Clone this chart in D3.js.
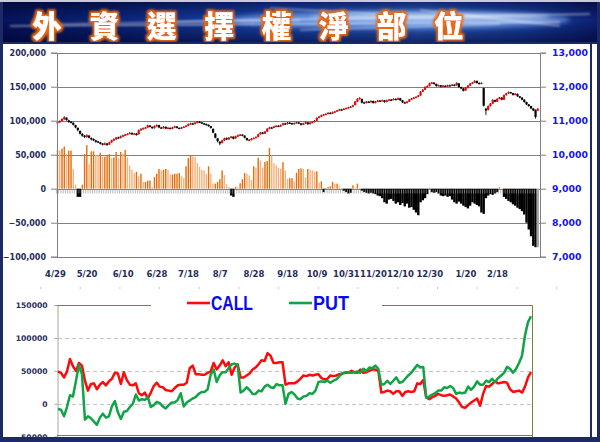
<!DOCTYPE html>
<html><head><meta charset="utf-8">
<script src="https://cdn.jsdelivr.net/npm/d3@7"></script>
<style>body{margin:0;background:#fff}svg{display:block}</style>
</head><body>
<svg id="c" width="600" height="442"></svg>
<script>
// ---------------- DATA ----------------
const titleText = "外資選擇權淨部位";
const dateLabels = ["4/29","5/20","6/10","6/28","7/18","8/7","8/28","9/18","10/9","10/31","11/20","12/10","12/30","1/20","2/18"];
const dateLabelIdx = [0,14,30,45,59,73,88,103,116,129,141,153,166,182,196];
const leftTicks = [-100000,-50000,0,50000,100000,150000,200000];
const rightTicks = [7000,8000,9000,10000,11000,12000,13000];
const lowerTicks = [-50000,0,50000,100000,150000];
const seriesNames = ["CALL","PUT"];

const idxOpen = [
10920,10950,10990,11040,11090,11010,10970,10940,10870,10790,
10700,10610,10560,10520,10560,10490,10460,10420,10390,10360,
10330,10300,10330,10300,10360,10420,10450,10510,10490,10540,
10570,10590,10610,10640,10600,10620,10600,10720,10760,10780,
10800,10860,10820,10780,10840,10870,10800,10780,10820,10770,
10790,10760,10800,10830,10790,10770,10800,10820,10850,10900,
10920,10900,10940,10970,10950,10920,10900,10880,10840,10760,
10620,10480,10380,10350,10420,10490,10450,10500,10530,10480,
10540,10570,10590,10560,10490,10420,10440,10470,10490,10520,
10600,10650,10620,10680,10760,10800,10790,10830,10850,10830,
10870,10920,10900,10940,10930,10900,10930,10950,10920,10880,
10920,10950,10900,10940,10960,11000,11080,11120,11160,11180,
11200,11230,11210,11250,11270,11300,11330,11320,11350,11370,
11390,11410,11460,11560,11640,11640,11540,11520,11560,11540,
11580,11520,11560,11590,11580,11600,11550,11600,11620,11610,
11640,11620,11660,11600,11540,11520,11560,11620,11650,11680,
11700,11740,11850,11910,11990,12020,12100,12120,12080,12020,
12040,12000,12030,12010,12040,12030,12060,12040,12100,11990,
11950,11890,11960,12030,12090,12120,12170,12110,12090,11960,
11350,11320,11430,11500,11610,11560,11640,11680,11620,11750,
11800,11840,11810,11760,11790,11720,11680,11620,11550,11480,
11430,11360,11320,11300];
const idxHigh = [
10990,11010,11070,11130,11100,11030,10990,10950,10880,10800,
10710,10640,10580,10600,10580,10510,10480,10440,10410,10380,
10340,10360,10340,10380,10440,10480,10520,10530,10560,10590,
10610,10630,10660,10660,10640,10640,10740,10780,10800,10820,
10880,10870,10830,10860,10890,10880,10820,10840,10830,10810,
10800,10820,10850,10840,10800,10820,10840,10870,10920,10940,
10940,10960,10990,10990,10960,10940,10920,10890,10850,10770,
10640,10490,10400,10440,10500,10510,10520,10550,10540,10560,
10590,10610,10600,10570,10500,10460,10490,10510,10540,10620,
10670,10670,10700,10780,10820,10820,10850,10870,10870,10890,
10940,10940,10960,10960,10940,10950,10970,10960,10930,10940,
10970,10960,10960,10980,11020,11100,11140,11180,11200,11220,
11250,11250,11270,11290,11320,11350,11350,11370,11390,11410,
11430,11470,11580,11660,11690,11650,11560,11580,11580,11600,
11590,11580,11610,11610,11620,11610,11620,11640,11640,11660,
11660,11680,11670,11610,11560,11580,11640,11670,11700,11720,
11760,11870,11930,12010,12040,12120,12140,12130,12090,12060,
12050,12050,12040,12060,12060,12080,12070,12130,12110,12000,
11960,11980,12050,12110,12140,12190,12180,12130,12130,11970,
11380,11450,11520,11630,11620,11660,11700,11690,11770,11820,
11860,11850,11820,11810,11800,11730,11690,11630,11560,11490,
11440,11370,11330,11370];
const idxLow = [
10900,10940,10980,11030,11000,10940,10920,10860,10780,10690,
10590,10530,10490,10500,10480,10420,10400,10350,10340,10300,
10270,10280,10260,10290,10350,10400,10440,10470,10480,10520,
10550,10580,10600,10580,10590,10560,10590,10700,10740,10760,
10790,10800,10760,10770,10820,10780,10760,10770,10750,10750,
10740,10750,10790,10770,10750,10760,10790,10810,10840,10880,
10880,10890,10920,10930,10900,10880,10860,10820,10770,10630,
10480,10360,10280,10330,10400,10430,10440,10480,10450,10470,
10520,10550,10540,10480,10410,10400,10420,10460,10480,10510,
10590,10600,10610,10670,10750,10770,10780,10810,10810,10820,
10860,10880,10890,10910,10880,10890,10920,10900,10860,10870,
10910,10880,10890,10930,10950,10990,11070,11110,11150,11170,
11190,11190,11200,11240,11260,11290,11300,11310,11340,11360,
11380,11400,11450,11550,11620,11510,11500,11510,11520,11530,
11500,11510,11550,11560,11570,11530,11540,11590,11590,11600,
11600,11610,11580,11520,11500,11510,11550,11610,11640,11670,
11690,11730,11840,11900,11980,12010,12080,12060,12000,12010,
11980,11990,11990,12000,12010,12020,12010,12030,11970,11920,
11860,11880,11950,12020,12080,12110,12090,12070,12080,11420,
11170,11300,11420,11490,11540,11550,11630,11600,11610,11740,
11790,11790,11740,11750,11700,11660,11600,11530,11460,11410,
11340,11280,11060,11290];
const idxClose = [
10960,10990,11050,11100,11020,10960,10940,10880,10800,10720,
10620,10560,10520,10570,10500,10450,10420,10380,10370,10320,
10300,10330,10290,10360,10420,10460,10500,10490,10540,10570,
10590,10610,10640,10600,10620,10580,10720,10760,10780,10800,
10860,10820,10780,10840,10870,10800,10780,10820,10770,10790,
10760,10800,10830,10790,10770,10800,10820,10850,10900,10920,
10900,10940,10970,10950,10920,10900,10880,10840,10790,10650,
10500,10400,10330,10420,10480,10450,10500,10530,10470,10540,
10570,10590,10560,10500,10430,10440,10470,10490,10520,10600,
10650,10620,10680,10760,10800,10790,10830,10850,10830,10870,
10920,10900,10940,10930,10900,10930,10950,10920,10880,10920,
10950,10900,10940,10960,11000,11080,11120,11160,11180,11200,
11230,11210,11250,11270,11300,11330,11320,11350,11370,11390,
11410,11450,11560,11640,11670,11530,11520,11560,11540,11580,
11520,11560,11590,11580,11600,11550,11600,11620,11610,11640,
11620,11660,11600,11540,11520,11560,11620,11650,11680,11700,
11740,11850,11910,11990,12020,12100,12120,12080,12020,12040,
12000,12030,12010,12040,12030,12060,12030,12110,11990,11950,
11880,11960,12030,12090,12120,12170,12110,12090,12110,11440,
11300,11430,11500,11610,11560,11640,11680,11620,11750,11800,
11840,11810,11760,11790,11720,11680,11620,11550,11480,11430,
11360,11300,11110,11350];
const netPosition = [
57000,56000,59000,62000,51000,56000,56000,29000,6000,-12000,
-12000,6000,51000,64000,36000,55000,55000,50000,49000,53000,
47000,47000,49000,51000,45000,46000,54000,45000,54000,52000,
57000,46000,34000,28000,23000,25000,18000,22000,10000,10000,
12000,12000,2500,17000,22000,29000,27000,28000,29000,28000,
21000,21000,22000,22000,23000,18500,16000,33000,45000,49000,
47500,46500,38000,32000,28000,27000,22000,33000,22000,7500,
7500,10000,14000,27000,20000,6500,2500,-10000,-12000,2500,
1500,8000,14000,23000,22000,19500,13000,33000,31000,45500,
41500,31000,39500,40500,60000,49000,37500,34500,31000,29500,
39000,27000,14500,15500,15500,11000,23500,29000,30000,29000,
17000,29000,28000,27000,25500,25500,9000,11000,-5000,1000,
2500,3500,10000,7500,7500,3500,1000,-3000,-5000,-7000,
-6000,5000,1500,7500,1000,-3000,-5000,-6000,-7000,-6000,
-7000,-8000,-10000,-11000,-14000,-20000,-22000,-16000,-15000,-18000,
-22000,-20000,-24000,-21000,-26000,-22000,-28000,-27000,-31000,-35000,
-39000,-20000,-17000,-14000,-8000,1500,-5000,-6000,-5000,-7000,
-10000,-11000,-10000,-12000,-11000,-16000,-20000,-22000,-19000,-22000,
-25000,-27000,-29000,-25000,-20000,-22000,-24000,-26000,-35000,-37000,
-14000,-10000,-8000,-9000,-7000,-5000,2000,0,-12000,-15000,
-18000,-20000,-23000,-25000,-28000,-30000,-33000,-38000,-50000,-60000,
-70000,-84000,-86000,-86000];

const callOI = [
49000,47000,40000,49000,68000,57000,50000,62000,58000,35000,
20000,30000,31000,22000,29000,33000,28000,34000,38000,47000,
46000,30000,48000,36000,29000,28000,31000,16000,13000,17000,
8000,17000,27000,32000,26000,25000,21000,20000,19000,24000,
28000,29000,29000,32000,54000,58000,45000,45000,44000,44000,
47000,49000,62000,52000,58000,66000,57000,63000,44000,55000,
60000,40000,40000,43000,46000,52000,55000,60000,66000,65000,
77000,73000,62000,62000,63000,63000,29000,31000,31000,31000,
34000,38000,43000,42000,44000,43000,44000,45000,39000,37000,
38000,43000,42000,43000,45000,46000,47000,47000,50000,48000,
47000,52000,47000,48000,50000,52000,52000,50000,17000,18000,
20000,19000,15000,19000,19000,12000,18000,19000,18000,19000,
31000,30000,36000,10000,7000,10000,12000,15000,13000,12000,
13000,14000,11000,8000,2000,-5000,-6000,-2000,2000,5000,
8000,-3000,15000,27000,26000,30000,34000,31000,32000,33000,
32000,22000,18000,19000,20000,17000,26000,40000,48000];
const putOI = [
-8000,-9000,-19000,-5000,13000,11000,35000,59000,45000,-24000,
-19000,-22000,-27000,-32000,-21000,-15000,-21000,-19000,-4000,4000,
-13000,-23000,-12000,-11000,-5000,0,14000,5000,7000,6000,
10000,-5000,-2000,3000,1000,-4000,-7000,-2000,2000,2000,
6000,16000,-4000,2000,5000,8000,10000,15000,18000,18000,
22000,44000,52000,33000,43000,48000,48000,54000,60000,61000,
59000,17000,20000,25000,21000,15000,15000,20000,19000,26000,
29000,25000,24000,30000,28000,28000,0,15000,18000,14000,
8000,7000,11000,12000,16000,15000,20000,33000,34000,33000,
35000,32000,35000,37000,42000,46000,48000,48000,47000,48000,
49000,47000,53000,50000,55000,54000,58000,53000,29000,30000,
35000,30000,35000,40000,32000,33000,38000,43000,47000,53000,
59000,55000,56000,9000,11000,14000,16000,20000,20000,25000,
24000,27000,24000,15000,17000,16000,17000,26000,21000,26000,
34000,29000,29000,35000,33000,38000,33000,39000,43000,47000,
56000,53000,47000,53000,62000,73000,104000,124000,133000];

// ---------------- DRAW ----------------
const svg = d3.select("#c");
const defs = svg.append("defs");
const NAVY = "#1b2a66", AXIS_TXT = "#1f2d5c", BLUE = "#1414f0";
const GRID = "#808080";

// Banner
const bg = defs.append("linearGradient").attr("id","bgH").attr("x1",0).attr("x2",1).attr("y1",0).attr("y2",0);
[[0,"#06145a"],[0.18,"#0a2378"],[0.45,"#1a48b0"],[0.7,"#2a62c8"],[0.88,"#1a44a6"],[1,"#0b2070"]]
  .forEach(([o,c])=>bg.append("stop").attr("offset",o).attr("stop-color",c));
const bgV = defs.append("linearGradient").attr("id","bgV").attr("x1",0).attr("x2",0).attr("y1",0).attr("y2",1);
[[0,"rgba(0,0,40,0.55)"],[0.45,"rgba(0,0,40,0)"],[1,"rgba(0,0,40,0.6)"]]
  .forEach(([o,c])=>bgV.append("stop").attr("offset",o).attr("stop-color",c));
defs.append("filter").attr("id","blur3").attr("x","-20%").attr("y","-200%").attr("width","140%").attr("height","500%")
  .append("feGaussianBlur").attr("stdDeviation",2.5);
defs.append("filter").attr("id","blur1").attr("x","-20%").attr("y","-200%").attr("width","140%").attr("height","500%")
  .append("feGaussianBlur").attr("stdDeviation",0.8);
const glow = defs.append("filter").attr("id","glow").attr("x","-30%").attr("y","-30%").attr("width","160%").attr("height","160%");
glow.append("feMorphology").attr("in","SourceAlpha").attr("operator","dilate").attr("radius",2.2).attr("result","d");
glow.append("feGaussianBlur").attr("in","d").attr("stdDeviation",1).attr("result","b");
glow.append("feFlood").attr("flood-color","#e86a10");
glow.append("feComposite").attr("in2","b").attr("operator","in").attr("result","o");
const gm = glow.append("feMerge"); gm.append("feMergeNode").attr("in","o"); gm.append("feMergeNode").attr("in","SourceGraphic");

const banner = svg.append("g");
banner.append("rect").attr("x",2).attr("y",2).attr("width",596).attr("height",40).attr("fill","url(#bgH)");
banner.append("rect").attr("x",2).attr("y",2).attr("width",596).attr("height",40).attr("fill","url(#bgV)");
banner.append("ellipse").attr("cx",400).attr("cy",20).attr("rx",170).attr("ry",9).attr("fill","#9cc4ff").attr("opacity",0.55).attr("filter","url(#blur3)");
banner.append("ellipse").attr("cx",430).attr("cy",17).attr("rx",120).attr("ry",4).attr("fill","#e8f2ff").attr("opacity",0.6).attr("filter","url(#blur3)");
[[10,26,560,22,1.2],[150,22,590,14,1],[270,8,380,14,0.8],[420,10,560,26,0.9],[60,24,300,20,0.8],[300,30,500,24,0.8]]
  .forEach(([x1,y1,x2,y2,w])=>banner.append("line").attr("x1",x1).attr("y1",y1).attr("x2",x2).attr("y2",y2)
    .attr("stroke","#ffffff").attr("stroke-width",w).attr("opacity",0.75).attr("filter","url(#blur1)"));
banner.selectAll("text.t").data(Array.from(titleText)).join("text")
  .attr("x",(d,i)=>47+57.4*i).attr("y",23.5).attr("text-anchor","middle").attr("dominant-baseline","central")
  .attr("font-family","'Noto Sans CJK TC','Noto Sans CJK SC',sans-serif").attr("font-weight",900).attr("font-size",29.5)
  .attr("fill","#ffffff").attr("filter","url(#glow)").text(d=>d);

// ---- Top chart ----
const N = idxClose.length;
const xT = d3.scaleLinear().domain([0, N-1]).range([57.5, 537.8]);
const yL = d3.scaleLinear().domain([-100000, 200000]).range([256.7, 52.7]);
const yR = d3.scaleLinear().domain([7000, 13000]).range([256.7, 52.7]);
const topG = svg.append("g");

topG.selectAll("line.grid").data(leftTicks).join("line")
  .attr("x1",57).attr("x2",540).attr("y1",d=>Math.round(yL(d))+0.5).attr("y2",d=>Math.round(yL(d))+0.5)
  .attr("stroke",GRID).attr("stroke-width",1);

// bars
topG.selectAll("rect.bar").data(netPosition).join("rect")
  .attr("x",(d,i)=>xT(i)-(d<0?1.2:0.7)).attr("width",d=>d<0?2.4:1.4)
  .attr("y",d=>yL(Math.max(0,d))).attr("height",d=>Math.abs(yL(d)-yL(0)))
  .attr("fill",(d,i)=> i===N-1 ? "#a8a8a8" : d<0 ? "#000000" : (i>0 && d<netPosition[i-1] ? "#f6b07a" : "#e46c0a"));

// category ticks on zero line
const y0 = Math.round(yL(0))+0.5;
topG.append("g").selectAll("line").data(d3.range(N)).join("line")
  .attr("x1",i=>xT(i)-1.1).attr("x2",i=>xT(i)-1.1).attr("y1",y0).attr("y2",y0+4)
  .attr("stroke","#9a9a9a").attr("stroke-width",0.7);

// candles
const cg = topG.append("g");
cg.selectAll("line").data(idxClose).join("line")
  .attr("x1",(d,i)=>xT(i)).attr("x2",(d,i)=>xT(i))
  .attr("y1",(d,i)=>yR(idxHigh[i])).attr("y2",(d,i)=>yR(idxLow[i]))
  .attr("stroke","#000").attr("stroke-width",0.9);
cg.selectAll("rect").data(idxClose).join("rect")
  .attr("x",(d,i)=>xT(i)-1.1).attr("width",2.2)
  .attr("y",(d,i)=>yR(Math.max(d,idxOpen[i])))
  .attr("height",(d,i)=>Math.max(1.2,Math.abs(yR(d)-yR(idxOpen[i]))))
  .attr("fill",(d,i)=> d>=idxOpen[i] ? "#ff0000" : "#000000");

// axes
const axL = topG.append("g").attr("transform","translate(57,0)")
  .call(d3.axisLeft(yL).tickValues(leftTicks).tickFormat(d3.format(",")).tickSize(6).tickPadding(5));
axL.selectAll("text").attr("font-family","'DejaVu Sans',sans-serif").attr("font-weight","bold").attr("font-size",8).attr("fill",AXIS_TXT);
const axR = topG.append("g").attr("transform","translate(540,0)")
  .call(d3.axisRight(yR).tickValues(rightTicks).tickFormat(d3.format(",")).tickSize(6).tickPadding(6));
axR.selectAll("text").attr("font-family","'DejaVu Sans',sans-serif").attr("font-weight","bold").attr("font-size",9.3).attr("fill",BLUE);
[axL,axR].forEach(a=>{a.selectAll("line,path").attr("stroke",GRID).attr("stroke-width",1);});

topG.selectAll("text.xl").data(dateLabels).join("text")
  .attr("x",(d,i)=>xT(dateLabelIdx[i])-2).attr("y",277).attr("text-anchor","middle")
  .attr("font-family","'DejaVu Sans',sans-serif").attr("font-weight","bold").attr("font-size",8.5).attr("fill",AXIS_TXT)
  .text(d=>d);

// faint ticks row
svg.append("g").selectAll("rect").data(d3.range(14)).join("rect")
  .attr("x",k=>40+39.7*k).attr("y",287).attr("width",1).attr("height",2).attr("fill","#c8c8c8");

// ---- Bottom chart ----
const M = callOI.length;
const xB = d3.scaleLinear().domain([0, M-1]).range([58, 531]);
const yB = d3.scaleLinear().domain([-50000, 150000]).range([436.7, 305]);
const bot = svg.append("g");
bot.selectAll("line.g").data([0,50000,100000]).join("line")
  .attr("x1",58).attr("x2",532).attr("y1",d=>Math.round(yB(d))+0.5).attr("y2",d=>Math.round(yB(d))+0.5)
  .attr("stroke","#c4c4c4").attr("stroke-dasharray","4,3");
const axB = bot.append("g").attr("transform","translate(57.5,0)")
  .call(d3.axisLeft(yB).tickValues(lowerTicks).tickFormat(d3.format("d")).tickSize(3).tickPadding(7));
axB.selectAll("line,path").attr("stroke","#a6a6a6");
axB.selectAll("text").attr("font-family","'DejaVu Sans',sans-serif").attr("font-weight","bold").attr("font-size",7.6).attr("fill",AXIS_TXT);
const OLIVE = "#867a38";
bot.append("path").attr("d","M57,305.5H151M382,305.5H532.5V437").attr("fill","none").attr("stroke",OLIVE).attr("stroke-width",1);
bot.append("line").attr("x1",57).attr("x2",533).attr("y1",435.5).attr("y2",435.5).attr("stroke",OLIVE);

const lineGen = d3.line().x((d,i)=>xB(i)).y(d=>yB(d));
const colors = {CALL:"#ff0a0a", PUT:"#10a446"};
[[callOI,"CALL"],[putOI,"PUT"]].forEach(([arr,name])=>{
  bot.append("path").attr("d",lineGen(arr)).attr("fill","none").attr("stroke",colors[name])
    .attr("stroke-width",2.5).attr("stroke-linejoin","round");
});
// legend
const lg = bot.append("g");
[[seriesNames[0],187,211,42],[seriesNames[1],289,313,36]].forEach(([name,lx,tx,tw])=>{
  lg.append("line").attr("x1",lx).attr("x2",lx+23).attr("y1",303).attr("y2",303).attr("stroke",colors[name]).attr("stroke-width",2.6);
  lg.append("text").attr("x",tx).attr("y",310).attr("font-family","'Liberation Sans Narrow','Liberation Sans',Arial,sans-serif")
    .attr("font-weight","bold").attr("font-size",19.5).attr("fill","#0a0af0")
    .attr("textLength",tw).attr("lengthAdjust","spacingAndGlyphs").text(name);
});

// ---- frame ----
const fr = svg.append("g");
fr.append("rect").attr("x",0).attr("y",437).attr("width",600).attr("height",5).attr("fill",NAVY);
fr.append("rect").attr("x",0).attr("y",0).attr("width",3).attr("height",442).attr("fill",NAVY);
fr.append("rect").attr("x",597).attr("y",0).attr("width",3).attr("height",442).attr("fill",NAVY);
fr.append("rect").attr("x",590).attr("y",42).attr("width",2).attr("height",395).attr("fill",NAVY);
fr.append("rect").attr("x",0).attr("y",42).attr("width",600).attr("height",2).attr("fill",NAVY);
fr.append("rect").attr("x",0).attr("y",0).attr("width",600).attr("height",2).attr("fill","#c9ccd6");
</script>
</body></html>
